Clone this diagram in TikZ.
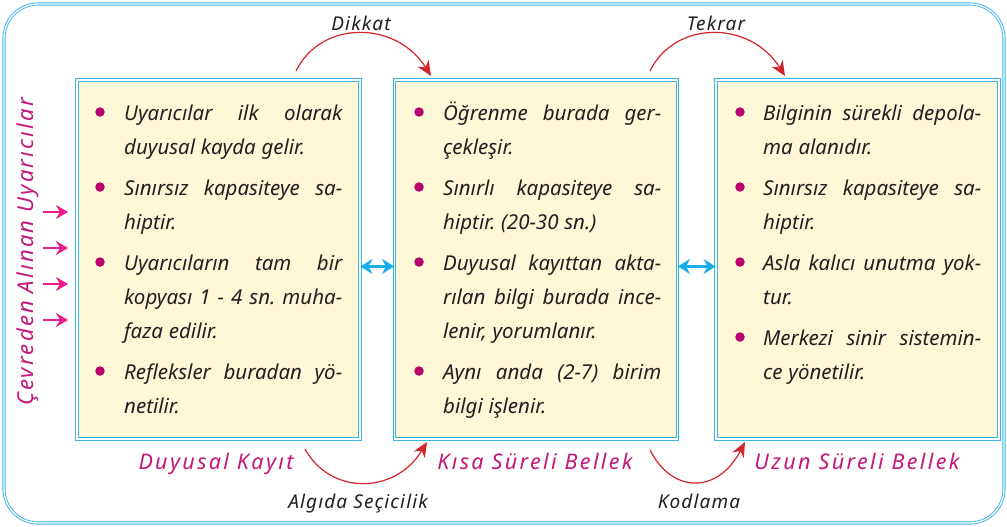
\documentclass[tikz,border=0pt]{standalone}
\usepackage{fontspec}
\setmainfont{Noto Sans}
\newfontfamily\lblfont[LetterSpace=11]{Noto Sans}
\newfontfamily\capfont[LetterSpace=6]{Noto Sans}
\newfontfamily\vertfont[LetterSpace=10]{Noto Sans}
\usetikzlibrary{arrows.meta}
\definecolor{frameblue}{HTML}{3AB4E6}
\definecolor{boxfill}{HTML}{FFF8D6}
\definecolor{lblmag}{HTML}{C4177A}
\definecolor{dotmag}{HTML}{B8006E}
\definecolor{pinkarr}{HTML}{EC1C8C}
\definecolor{redarr}{HTML}{D4252D}
\definecolor{cyanarr}{HTML}{1BAEEA}
\definecolor{txt}{HTML}{231F20}
\newcommand{\jl}[1]{{\spaceskip=.28em plus 1fil\xspaceskip=.28em plus 1fil\relax\makebox[218pt][s]{#1}}}
\newcommand{\ps}{\spaceskip=.28em\xspaceskip=.28em\relax}
\tikzset{
  frame/.style={draw=frameblue, double=white, line width=0.9pt, double distance=1.3pt},
  membox/.style={frame, fill=boxfill, minimum width=283pt, minimum height=359pt, inner sep=0pt},
  para/.style={anchor=base west, text width=218pt, align=left, inner sep=0pt, text=txt,
    font=\itshape\fontsize{20.5}{34}\selectfont},
  dot/.style={circle, fill=dotmag, inner sep=0pt, minimum size=9.5pt},
  boxlabel/.style={anchor=base, text=lblmag, inner sep=0pt, font=\lblfont\itshape\fontsize{21.5}{24}\selectfont},
  arrlabel/.style={anchor=base, text=txt, inner sep=0pt, font=\capfont\itshape\fontsize{19}{22}\selectfont},
  redcurve/.style={draw=redarr, line width=1.2pt, -{Stealth[length=15pt,width=13pt]}},
  cyandbl/.style={draw=cyanarr, line width=2.6pt, {Stealth[length=12pt,width=15pt]}-{Stealth[length=12pt,width=15pt]}},
  pinkin/.style={draw=pinkarr, line width=2.6pt, -{Stealth[length=12pt,width=14pt]}}
}
\begin{document}
\begin{tikzpicture}[x=1pt,y=-1pt]
\useasboundingbox (0,0) rectangle (1007,527);
\draw[frame, rounded corners=34pt] (4,4) rectangle (1004,523);

% memory boxes
\node[membox] (b1) at (218.5,259.5) {};
\node[membox] (b2) at (536,259.5) {};
\node[membox] (b3) at (857.5,259.5) {};

% box 1
\node[dot] (d11) at (100,112) {};
\node[para] (p11) at (124,120) {\ps\jl{Uyarıcılar ilk olarak}\\duyusal kayda gelir.};
\node[dot] (d12) at (100,187) {};
\node[para] (p12) at (124,195) {\ps\jl{Sınırsız kapasiteye sa-}\\hiptir.};
\node[dot] (d13) at (100,262) {};
\node[para] (p13) at (124,270) {\ps\jl{Uyarıcıların tam bir}\\\jl{kopyası 1 - 4 sn. muha-}\\faza edilir.};
\node[dot] (d14) at (100,371) {};
\node[para] (p14) at (124,379) {\ps\jl{Refleksler buradan yö-}\\netilir.};

% box 2
\node[dot] (d21) at (419,112) {};
\node[para] (p21) at (443,120) {\ps\jl{Öğrenme burada ger-}\\çekleşir.};
\node[dot] (d22) at (419,187) {};
\node[para] (p22) at (443,195) {\ps\jl{Sınırlı kapasiteye sa-}\\hiptir. (20-30 sn.)};
\node[dot] (d23) at (419,262) {};
\node[para] (p23) at (443,270) {\ps\jl{Duyusal kayıttan akta-}\\\jl{rılan bilgi burada ince-}\\lenir, yorumlanır.};
\node[dot] (d24) at (419,371) {};
\node[para] (p24) at (443,379) {\ps\jl{Aynı anda (2-7) birim}\\bilgi işlenir.};

% box 3
\node[dot] (d31) at (740,112) {};
\node[para] (p31) at (763,120) {\ps\jl{Bilginin sürekli depola-}\\ma alanıdır.};
\node[dot] (d32) at (740,187) {};
\node[para] (p32) at (763,195) {\ps\jl{Sınırsız kapasiteye sa-}\\hiptir.};
\node[dot] (d33) at (740,262) {};
\node[para] (p33) at (763,270) {\ps\jl{Asla kalıcı unutma yok-}\\tur.};
\node[dot] (d34) at (740,337) {};
\node[para] (p34) at (763,345) {\ps\jl{Merkezi sinir sistemin-}\\ce yönetilir.};

% box labels
\node[boxlabel] (n1) at (216,469) {Duyusal Kayıt};
\node[boxlabel] (n2) at (535,469) {Kısa Süreli Bellek};
\node[boxlabel] (n3) at (857,469) {Uzun Süreli Bellek};

% double arrows between boxes
\draw[cyandbl] ([yshift=-7pt]b1.east) -- ([yshift=-7pt]b2.west);
\draw[cyandbl] ([yshift=-7pt]b2.east) -- ([yshift=-7pt]b3.west);

% vertical caption and incoming arrows
\node[rotate=90, anchor=base, inner sep=0pt, text=lblmag, font=\vertfont\itshape\fontsize{22}{24}\selectfont] (env) at (33,252) {Çevreden Alınan Uyarıcılar};
\coordinate (i1s) at (43,212); \coordinate (i1e) at (68,212);
\coordinate (i2s) at (43,248); \coordinate (i2e) at (68,248);
\coordinate (i3s) at (43,284); \coordinate (i3e) at (68,284);
\coordinate (i4s) at (43,320); \coordinate (i4e) at (68,320);
\draw[pinkin] (i1s) -- (i1e);
\draw[pinkin] (i2s) -- (i2e);
\draw[pinkin] (i3s) -- (i3e);
\draw[pinkin] (i4s) -- (i4e);

% red curved arrows
\coordinate (c1s) at (296,71); \coordinate (c1e) at (431,76);
\draw[redcurve] (c1s) .. controls (321,20) and (396,20) .. (c1e);
\node[arrlabel] (t1) at (361,31) {Dikkat};

\coordinate (c2s) at (650,71); \coordinate (c2e) at (785,76);
\draw[redcurve] (c2s) .. controls (675,20) and (750,20) .. (c2e);
\node[arrlabel] (t2) at (716,31) {Tekrar};

\coordinate (c3s) at (305,449); \coordinate (c3e) at (427,442);
\draw[redcurve] (c3s) .. controls (330,495) and (395,495) .. (c3e);
\node[arrlabel] (t3) at (358,508) {Algıda Seçicilik};

\coordinate (c4s) at (650,450); \coordinate (c4e) at (745,442);
\draw[redcurve] (c4s) .. controls (672,494) and (718,494) .. (c4e);
\node[arrlabel] (t4) at (699,508) {Kodlama};
\end{tikzpicture}
\end{document}
